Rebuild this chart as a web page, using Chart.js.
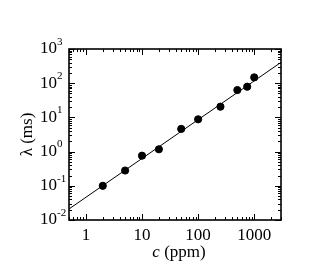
<!DOCTYPE html>
<html>
<head>
<meta charset="utf-8">
<script src="https://cdn.jsdelivr.net/npm/chart.js@4"></script>
<style>
    body { margin: 0; background: #ffffff; }
    .grafico { width: 318px; height: 279px; position: relative; }
</style>
</head>
<body>
<div class="grafico"><canvas id="grafico"></canvas></div>
<script>
// Datos
const concentracion = [2, 5, 10, 20, 50, 100, 250, 500, 750, 1000];
const lambda = [0.1, 0.28, 0.76, 1.17, 4.6, 8.8, 20.6, 63, 79, 148];
const ajusteX = [0.5, 3000];
const ajusteY = [0.021, 407];

const marcasX = [1, 10, 100, 1000];
const etiquetasX = ['1', '10', '100', '1000'];
const exponentesY = [-2, -1, 0, 1, 2, 3];

const FUENTE = '"Liberation Serif", "Times New Roman", serif';

// Marcas menores de una escala logaritmica
function marcasMenores(min, max) {
    const lista = [];
    for (let e = Math.floor(Math.log10(min)); e <= Math.ceil(Math.log10(max)); e++) {
        for (let k = 1; k <= 9; k++) {
            const v = k * Math.pow(10, e);
            if (v >= min * 0.999 && v <= max * 1.001) lista.push({ v, mayor: k === 1 });
        }
    }
    return lista;
}

const ejesPlugin = {
    id: 'ejes',
    afterDraw(chart) {
        const ctx = chart.ctx;
        const area = chart.chartArea;
        const sx = chart.scales.x;
        const sy = chart.scales.y;
        ctx.save();
        ctx.strokeStyle = '#000';
        ctx.fillStyle = '#000';

        // Marco
        ctx.lineWidth = 1.6;
        ctx.strokeRect(area.left, area.top, area.right - area.left, area.bottom - area.top);

        // Marcas hacia adentro en los cuatro lados
        ctx.lineWidth = 1;
        ctx.beginPath();
        marcasMenores(sx.min, sx.max).forEach(m => {
            const px = Math.round(sx.getPixelForValue(m.v)) + 0.5;
            const largo = m.mayor ? 6 : 3;
            ctx.moveTo(px, area.bottom); ctx.lineTo(px, area.bottom - largo);
            ctx.moveTo(px, area.top); ctx.lineTo(px, area.top + largo);
        });
        marcasMenores(sy.min, sy.max).forEach(m => {
            const py = Math.round(sy.getPixelForValue(m.v)) + 0.5;
            const largo = m.mayor ? 6 : 3;
            ctx.moveTo(area.left, py); ctx.lineTo(area.left + largo, py);
            ctx.moveTo(area.right, py); ctx.lineTo(area.right - largo, py);
        });
        ctx.stroke();

        // Etiquetas eje x
        ctx.font = '17px ' + FUENTE;
        ctx.textAlign = 'center';
        ctx.textBaseline = 'middle';
        marcasX.forEach((v, i) => {
            ctx.fillText(etiquetasX[i], sx.getPixelForValue(v), area.bottom + 16);
        });

        // Etiquetas eje y (10 con exponente)
        exponentesY.forEach(e => {
            const py = sy.getPixelForValue(Math.pow(10, e));
            ctx.font = '17px ' + FUENTE;
            ctx.textAlign = 'right';
            ctx.textBaseline = 'middle';
            ctx.fillText('10', area.left - 12, py);
            ctx.font = '11px ' + FUENTE;
            ctx.textAlign = 'left';
            ctx.fillText(String(e), area.left - 12, py - 7);
        });

        // Titulo eje x: c (ppm)
        ctx.textBaseline = 'middle';
        ctx.textAlign = 'left';
        const cx = (area.left + area.right) / 2 + 4;
        ctx.font = 'italic 17px ' + FUENTE;
        const wC = ctx.measureText('c').width;
        ctx.font = '17px ' + FUENTE;
        const wR = ctx.measureText(' (ppm)').width;
        const x0 = cx - (wC + wR) / 2;
        ctx.font = 'italic 17px ' + FUENTE;
        ctx.fillText('c', x0, area.bottom + 33);
        ctx.font = '17px ' + FUENTE;
        ctx.fillText(' (ppm)', x0 + wC, area.bottom + 33);

        // Titulo eje y: λ (ms)
        ctx.translate(28, (area.top + area.bottom) / 2);
        ctx.rotate(-Math.PI / 2);
        ctx.textAlign = 'center';
        ctx.fillText('\u03bb (ms)', 0, 0);
        ctx.restore();
    }
};

const ctx = document.getElementById('grafico').getContext('2d');
new Chart(ctx, {
    type: 'scatter',
    data: {
        datasets: [{
            label: 'ajuste',
            type: 'line',
            data: ajusteX.map((x, i) => ({ x, y: ajusteY[i] })),
            borderColor: '#000',
            borderWidth: 1,
            pointRadius: 0,
            fill: false
        }, {
            label: 'datos',
            data: concentracion.map((x, i) => ({ x, y: lambda[i] })),
            backgroundColor: '#000',
            borderColor: '#000',
            borderWidth: 1,
            pointRadius: 3.6,
            showLine: false
        }]
    },
    options: {
        responsive: true,
        maintainAspectRatio: false,
        animation: false,
        layout: { padding: { left: 69, right: 37, top: 49, bottom: 59 } },
        plugins: { legend: { display: false }, tooltip: { enabled: false } },
        scales: {
            x: { type: 'logarithmic', min: 0.5, max: 3000, display: false },
            y: { type: 'logarithmic', min: 0.01, max: 1000, display: false }
        }
    },
    plugins: [ejesPlugin]
});
</script>
</body>
</html>
